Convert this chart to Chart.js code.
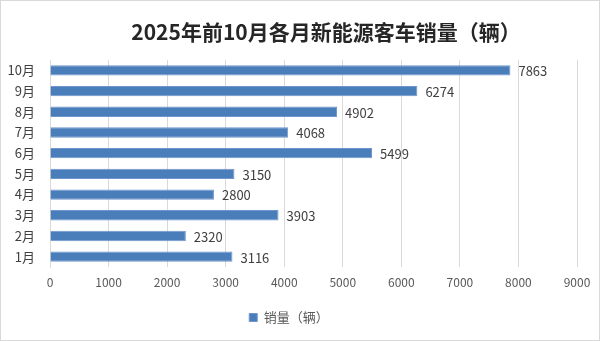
<!DOCTYPE html>
<html lang="zh-CN">
<head>
    <meta charset="UTF-8">
    <title>2025年前10月各月新能源客车销量</title>
    <style>
        html, body { margin: 0; padding: 0; background: #fff; }
        .box { width: 600px; height: 341px; box-sizing: border-box; border: 1px solid #d9d9d9; position: relative; }
        canvas { position: absolute; left: 0; top: 0; }
    </style>
</head>
<body>
    <div class="box">
        <canvas id="grafico1" width="598" height="339"></canvas>
    </div>

    <script src="https://cdn.jsdelivr.net/npm/chart.js"></script>
    <script>
        // dados
        const meses = ['1月','2月','3月','4月','5月','6月','7月','8月','9月','10月']
        const vendas = [3116, 2320, 3903, 2800, 3150, 5499, 4068, 4902, 6274, 7863]
        const tituloTexto = '2025年前10月各月新能源客车销量（辆）'
        const legendaTexto = '销量（辆）'

        const fonte = '"Noto Sans CJK SC", "Noto Sans", sans-serif'

        // titulo desenhado a mao para controlar a posicao
        const tituloPlugin = {
            id: 'tituloPlugin',
            afterDraw(chart) {
                const c = chart.ctx
                c.save()
                c.font = 'bold 21px ' + fonte
                c.fillStyle = '#262626'
                c.textAlign = 'center'
                c.textBaseline = 'middle'
                c.fillText(tituloTexto, 325, 31)
                c.restore()
            }
        }

        // rotulos de valor na ponta das barras
        const rotulosPlugin = {
            id: 'rotulosPlugin',
            afterDatasetsDraw(chart) {
                const c = chart.ctx
                const meta = chart.getDatasetMeta(0)
                c.save()
                c.font = '13px ' + fonte
                c.fillStyle = '#404040'
                c.textAlign = 'left'
                c.textBaseline = 'middle'
                meta.data.forEach((bar, i) => {
                    c.fillText(String(vendas[i]), bar.x + 8, bar.y + 1)
                })
                c.restore()
            }
        }

        const ctx = document.getElementById('grafico1')

        let grafico1 = new Chart(ctx, {
            type: 'bar',
            data: {
                labels: meses,
                datasets: [{
                    label: legendaTexto,
                    data: vendas,
                    backgroundColor: '#4A7EBB',
                    borderColor: '#6F96CC',
                    borderWidth: 1,
                    categoryPercentage: 1,
                    barPercentage: 0.5
                }]
            },
            options: {
                indexAxis: 'y',
                responsive: false,
                animation: false,
                layout: { padding: { top: 59, right: 22, left: 0, bottom: 6 } },
                scales: {
                    x: {
                        min: 0,
                        max: 9000,
                        ticks: {
                            stepSize: 1000,
                            color: '#595959',
                            font: { size: 12, family: fonte },
                            padding: 8,
                            callback: v => String(v)
                        },
                        grid: { color: '#d9d9d9', drawTicks: false },
                        border: { display: false },
                        afterFit(s) { s.height = 34 }
                    },
                    y: {
                        reverse: true,
                        ticks: { color: '#404040', font: { size: 13, family: fonte }, padding: 7 },
                        grid: { display: false },
                        border: { color: '#d9d9d9' },
                        afterFit(s) { s.width = 49 }
                    }
                },
                plugins: {
                    title: { display: false },
                    tooltip: { enabled: false },
                    legend: {
                        position: 'bottom',
                        labels: {
                            boxWidth: 8,
                            boxHeight: 8,
                            color: '#595959',
                            font: { size: 13, family: fonte },
                            padding: 10
                        }
                    }
                }
            },
            plugins: [tituloPlugin, rotulosPlugin]
        })
    </script>
</body>
</html>
